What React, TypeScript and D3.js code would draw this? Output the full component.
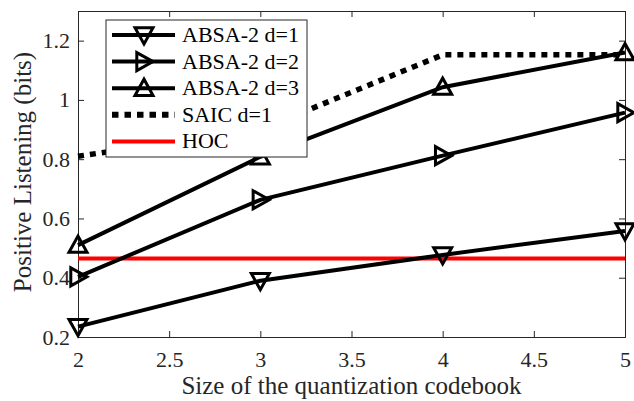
import * as d3 from "d3";
import React from "react";

const codebook = [2, 3, 4, 5];
const absaD1 = [0.235, 0.39, 0.477, 0.558];
const absaD2 = [0.403, 0.663, 0.812, 0.957];
const absaD3 = [0.51, 0.808, 1.043, 1.16];
const saicD1 = [0.81, 0.9, 1.152, 1.152];
const hoc = 0.465;
const xTicks = [2, 2.5, 3, 3.5, 4, 4.5, 5];
const yTicks = [0.2, 0.4, 0.6, 0.8, 1, 1.2];

const legendNames = ["ABSA-2 d=1", "ABSA-2 d=2", "ABSA-2 d=3", "SAIC d=1", "HOC"];

export default function App() {
  const ref = React.useRef<SVGSVGElement>(null);

  React.useEffect(() => {
    const svg = d3.select(ref.current);
    svg.selectAll("*").remove();

    const margin = { left: 78, right: 9, top: 11, bottom: 64 };
    const W = 634, H = 401;
    const width = W - margin.left - margin.right;
    const height = H - margin.top - margin.bottom;

    const x = d3.scaleLinear().domain([2, 5]).range([0, width]);
    const y = d3.scaleLinear().domain([0.2, 1.3]).range([height, 0]);

    const g = svg.append("g").attr("transform", `translate(${margin.left},${margin.top})`);
    const axisColor = "#262626";

    // axes, ticks pointing inward on all four sides
    const ax = g.append("g").attr("transform", `translate(0,${height})`)
      .call(d3.axisBottom(x).tickValues(xTicks).tickSize(-6).tickPadding(14).tickFormat(d3.format("")));
    const ay = g.append("g")
      .call(d3.axisLeft(y).tickValues(yTicks).tickSize(-6).tickPadding(8).tickFormat(d3.format("")));
    g.append("g").call(d3.axisTop(x).tickValues(xTicks).tickSize(-6).tickFormat(() => ""));
    g.append("g").attr("transform", `translate(${width},0)`)
      .call(d3.axisRight(y).tickValues(yTicks).tickSize(-6).tickFormat(() => ""));
    g.selectAll(".domain").attr("stroke", axisColor);
    g.selectAll(".tick line").attr("stroke", axisColor);
    g.selectAll("g").attr("font-family", null).attr("font-size", null);
    [ax, ay].forEach((a) => a.selectAll("text").attr("fill", axisColor).attr("font-size", 22));

    const line = d3.line<number>().x((_, i) => x(codebook[i])).y((d) => y(d));

    // HOC
    g.append("line").attr("x1", x(2)).attr("x2", x(5)).attr("y1", y(hoc)).attr("y2", y(hoc))
      .attr("stroke", "#ff0000").attr("stroke-width", 4);

    g.append("path").datum(saicD1).attr("d", line).attr("fill", "none")
      .attr("stroke", "#000").attr("stroke-width", 5.5).attr("stroke-dasharray", "6,6");

    const tri = (cx: number, cy: number, dir: string, s = 9) => {
      let pts: [number, number][];
      if (dir === "down") pts = [[cx - s, cy - s * 0.8], [cx + s, cy - s * 0.8], [cx, cy + s]];
      else if (dir === "up") pts = [[cx - s, cy + s * 0.8], [cx + s, cy + s * 0.8], [cx, cy - s]];
      else pts = [[cx - s * 0.8, cy - s], [cx - s * 0.8, cy + s], [cx + s, cy]];
      return "M" + pts.map((p) => p.join(",")).join("L") + "Z";
    };

    const series: [number[], string][] = [[absaD1, "down"], [absaD2, "right"], [absaD3, "up"]];
    series.forEach(([vals, dir]) => {
      g.append("path").datum(vals).attr("d", line).attr("fill", "none")
        .attr("stroke", "#000").attr("stroke-width", 4);
      g.selectAll(null).data(vals).enter().append("path")
        .attr("d", (d, i) => tri(x(codebook[i]), y(d), dir))
        .attr("fill", "none").attr("stroke", "#000").attr("stroke-width", 3);
    });

    // legend
    const lg = svg.append("g").attr("transform", "translate(106,20)");
    lg.append("rect").attr("width", 201).attr("height", 137).attr("fill", "#fff")
      .attr("stroke", axisColor).attr("stroke-width", 1);
    legendNames.forEach((name, i) => {
      const ly = 15 + i * 26.6;
      const row = lg.append("g");
      if (i < 3) {
        row.append("line").attr("x1", 6).attr("x2", 69).attr("y1", ly).attr("y2", ly)
          .attr("stroke", "#000").attr("stroke-width", 4);
        row.append("path").attr("d", tri(38, ly, ["down", "right", "up"][i]))
          .attr("fill", "none").attr("stroke", "#000").attr("stroke-width", 3);
      } else if (i === 3) {
        row.append("line").attr("x1", 6).attr("x2", 69).attr("y1", ly).attr("y2", ly)
          .attr("stroke", "#000").attr("stroke-width", 6).attr("stroke-dasharray", "6.5,6");
      } else {
        row.append("line").attr("x1", 6).attr("x2", 69).attr("y1", ly).attr("y2", ly)
          .attr("stroke", "#ff0000").attr("stroke-width", 4);
      }
      row.append("text").attr("x", 76).attr("y", ly + 7).text(name)
        .attr("font-size", 22).attr("fill", "#000");
    });

    // axis labels
    svg.append("text").attr("x", margin.left + width / 2).attr("y", 394)
      .attr("text-anchor", "middle").text("Size of the quantization codebook")
      .attr("font-size", 25).attr("fill", axisColor);
    svg.append("text").attr("transform", `translate(31,172) rotate(-90)`)
      .attr("text-anchor", "middle").text("Positive Listening (bits)")
      .attr("font-size", 25).attr("fill", axisColor);
  }, []);

  return (
    <svg ref={ref} width={634} height={401} fontFamily="'Liberation Serif', 'Times New Roman', serif" fontSize={20}
      style={{ display: "block", position: "absolute", left: 0, top: 0, background: "#fff" }} />
  );
}
